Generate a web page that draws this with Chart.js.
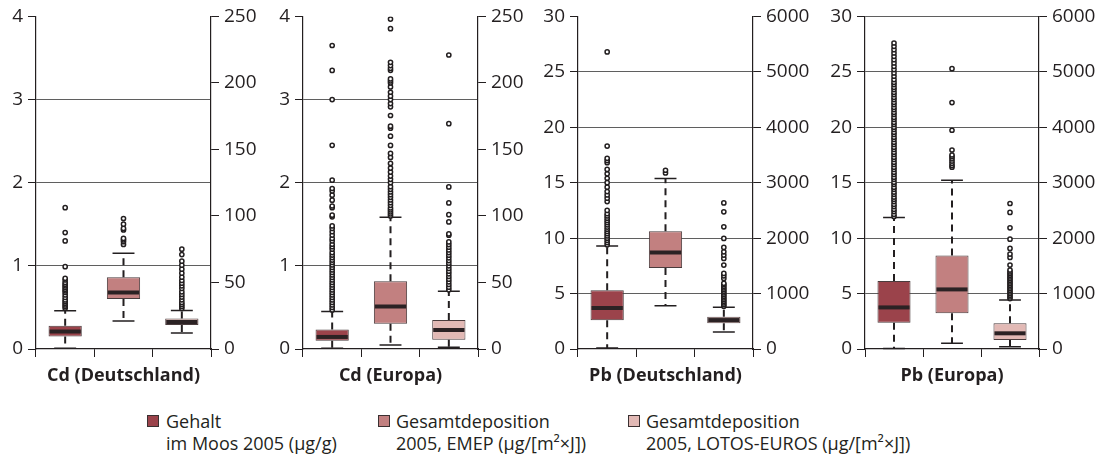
<!DOCTYPE html>
<html>
<head>
<meta charset="utf-8">
<script src="https://cdn.jsdelivr.net/npm/chart.js@4.4.0/dist/chart.umd.min.js"></script>
<style>
  body { margin: 0; background: #fff; }
  #wrap { position: relative; width: 1108px; height: 459px; font-family: "Open Sans", sans-serif; color: #231f20; }
  canvas { position: absolute; top: 0; }
  .lg { position: absolute; font-size: 18px; line-height: 22px; white-space: nowrap; }
  .sq { position: absolute; width: 12px; height: 12px; border: 1px solid #3a3031; box-sizing: border-box; }
</style>
</head>
<body>
<div id="wrap">
  <canvas id="p1" width="266" height="400" style="left:0px"></canvas>
  <canvas id="p2" width="267" height="400" style="left:266px"></canvas>
  <canvas id="p3" width="282" height="400" style="left:533px"></canvas>
  <canvas id="p4" width="293" height="400" style="left:815px"></canvas>

  <div class="sq" style="left:147px;top:415px;background:#9b434b"></div>
  <div class="lg" style="left:166px;top:410px">Gehalt<br>im Moos 2005 (µg/g)</div>
  <div class="sq" style="left:378px;top:415px;background:#c28080"></div>
  <div class="lg" style="left:396px;top:410px">Gesamtdeposition<br>2005, EMEP (µg/[m²×J])</div>
  <div class="sq" style="left:628px;top:415px;background:#e2b9b5"></div>
  <div class="lg" style="left:646px;top:410px">Gesamtdeposition<br>2005, LOTOS-EUROS (µg/[m²×J])</div>
</div>
<script>
const categories = ['Gehalt', 'EMEP', 'LOTOS-EUROS'];
const colors = ['#9b434b', '#c28080', '#e2b9b5'];

// box rows: [lower whisker, q1, median, q3, upper whisker]
// Gehalt on left axis, depositions on right axis
const cdDeBox = [
  [0.01, 0.15, 0.21, 0.28, 0.46],
  [21, 37.5, 42.5, 54, 72],
  [12, 18, 20.3, 23, 29]
];
const cdDeOutGehalt = [0.49, 0.51, 0.53, 0.55, 0.57, 0.59, 0.62, 0.65, 0.68, 0.70, 0.72, 0.74, 0.76, 0.78, 0.80, 0.83, 0.85, 0.99, 1.30, 1.40, 1.70];
const cdDeOutEmep = [78.6, 80.6, 82, 83.1, 89.5, 90.6, 93.8, 98.1];
const cdDeOutLotos = [30.5, 32, 33.5, 35, 37, 39, 41, 43, 45.5, 47.5, 49.5, 51.5, 54, 57, 60, 63, 66, 71, 75];

const cdEuBox = [
  [0.01, 0.10, 0.145, 0.235, 0.45],
  [3, 19, 32, 51, 99],
  [1.3, 7, 14.3, 21.8, 43.5]
];
const cdEuOutGehalt = [0.47, 0.5, 0.53, 0.56, 0.59, 0.62, 0.65, 0.68, 0.71, 0.74, 0.77, 0.8, 0.83, 0.86, 0.89, 0.92, 0.95, 0.98, 1.01, 1.04, 1.07, 1.1, 1.13, 1.16, 1.2, 1.23, 1.26, 1.3, 1.33, 1.37, 1.41, 1.45, 1.48, 1.59, 1.61, 1.7, 1.72, 1.79, 1.85, 1.9, 1.93, 2.03, 2.45, 3.0, 3.35, 3.65];
const cdEuOutEmep = [100, 101.5, 103, 104.5, 106, 108, 110, 112, 114, 116, 118, 120, 122, 125, 127.5, 130, 133, 136, 139.5, 144, 147, 153, 160, 166, 167.5, 175.5, 182, 184.5, 187.5, 190, 193, 197, 200, 201.5, 203, 209.5, 211, 213, 215.5, 240.8, 248];
const cdEuOutLotos = [44.5, 46.5, 48.5, 50.5, 52.5, 54.5, 56.5, 58.5, 60.5, 62.5, 64.5, 66.5, 68.5, 70.5, 72.5, 74.5, 76.5, 78.5, 80.5, 85.5, 86.5, 95.5, 101, 109.8, 121.8, 169.4, 221];

const pbDeBox = [
  [0.1, 2.6, 3.7, 5.3, 9.3],
  [780, 1459, 1742, 2126, 3075],
  [306, 463, 522, 582, 751]
];
const pbDeOutGehalt = [9.4, 9.6, 9.8, 10.0, 10.2, 10.4, 10.6, 10.8, 11.0, 11.2, 11.4, 11.6, 11.8, 12.0, 12.2, 12.5, 13.3, 13.6, 13.9, 14.2, 14.6, 15.0, 15.4, 15.8, 16.2, 16.8, 17.0, 17.2, 18.3, 26.8];
const pbDeOutEmep = [3177, 3225];
const pbDeOutLotos = [770, 800, 830, 860, 890, 920, 950, 980, 1010, 1040, 1070, 1100, 1130, 1160, 1185, 1274, 1320, 1364, 1514, 1634, 1694, 1753, 1832, 1994, 2204, 2474, 2636];

const pbEuBox = [
  [0.05, 2.37, 3.75, 6.13, 11.86],
  [103, 643, 1075, 1688, 3045],
  [41, 162, 283, 463, 883]
];
const pbEuOutGehalt = [11.95, 12.15, 12.4, 12.6, 12.85, 13.05, 13.3, 13.5, 13.7, 13.95, 14.15, 14.4, 14.6, 14.85, 15.05, 15.3, 15.5, 15.75, 15.95, 16.2, 16.4, 16.65, 16.85, 17.1, 17.3, 17.55, 17.75, 18.0, 18.2, 18.45, 18.65, 18.9, 19.1, 19.35, 19.55, 19.8, 20.0, 20.25, 20.45, 20.7, 20.9, 21.15, 21.35, 21.6, 21.8, 22.05, 22.25, 22.5, 22.7, 22.95, 23.15, 23.4, 23.6, 23.85, 24.05, 24.3, 24.6, 24.9, 25.2, 25.5, 25.8, 26.1, 26.4, 26.7, 27.0, 27.3, 27.6];
const pbEuOutEmep = [3280, 3310, 3350, 3390, 3430, 3470, 3500, 3590, 3946, 4445, 5057];
const pbEuOutLotos = [910, 940, 970, 1000, 1030, 1060, 1090, 1120, 1150, 1180, 1210, 1240, 1270, 1300, 1330, 1360, 1390, 1423, 1514, 1652, 1712, 1814, 1982, 2186, 2463, 2625];

const ink = '#231f20';

function boxParts(boxes) {
  return {
    id: 'boxParts',
    beforeDatasetsDraw(chart) {
      const ctx = chart.ctx;
      boxes.forEach((b, i) => {
        const el = chart.getDatasetMeta(i).data[i];
        const sc = chart.scales[i === 0 ? 'y' : 'y2'];
        const x = el.x, half = el.width * 0.33;
        ctx.save();
        ctx.strokeStyle = ink;
        ctx.lineWidth = 2;
        ctx.setLineDash([7, 5]);
        ctx.beginPath();
        ctx.moveTo(x, sc.getPixelForValue(b[3]));
        ctx.lineTo(x, sc.getPixelForValue(b[4]));
        ctx.moveTo(x, sc.getPixelForValue(b[1]));
        ctx.lineTo(x, sc.getPixelForValue(b[0]));
        ctx.stroke();
        ctx.setLineDash([]);
        ctx.lineWidth = 1.5;
        ctx.beginPath();
        [b[0], b[4]].forEach(v => {
          const y = sc.getPixelForValue(v);
          ctx.moveTo(x - half, y);
          ctx.lineTo(x + half, y);
        });
        ctx.stroke();
        ctx.restore();
      });
    },
    afterDatasetsDraw(chart) {
      const ctx = chart.ctx;
      boxes.forEach((b, i) => {
        const el = chart.getDatasetMeta(i).data[i];
        const sc = chart.scales[i === 0 ? 'y' : 'y2'];
        const y = sc.getPixelForValue(b[2]);
        ctx.save();
        ctx.strokeStyle = '#2b2224';
        ctx.lineWidth = 4;
        ctx.beginPath();
        ctx.moveTo(el.x - el.width / 2 + 1, y);
        ctx.lineTo(el.x + el.width / 2 - 1, y);
        ctx.stroke();
        ctx.restore();
      });
    }
  };
}

function drawPanel(id, title, boxes, outs, lMax, lStep, rMax, rStep, yW, y2W, topLine) {
  const datasets = [];
  boxes.forEach((b, i) => {
    datasets.push({
      type: 'bar',
      label: categories[i],
      data: categories.map((c, j) => j === i ? [b[1], b[3]] : null),
      yAxisID: i === 0 ? 'y' : 'y2',
      backgroundColor: colors[i],
      borderColor: '#4a3c3d',
      borderWidth: 1,
      borderSkipped: false,
      barPercentage: 0.57,
      categoryPercentage: 1,
      skipNull: true
    });
  });
  outs.forEach((o, i) => {
    datasets.push({
      type: 'line',
      label: categories[i] + ' Ausreißer',
      data: o.map(v => ({x: categories[i], y: v})),
      yAxisID: i === 0 ? 'y' : 'y2',
      showLine: false,
      pointRadius: 2.1,
      pointBorderWidth: 1.5,
      pointBackgroundColor: '#fff',
      pointBorderColor: ink
    });
  });
  const tickFont = {family: '"Open Sans", sans-serif', size: 19};
  new Chart(document.getElementById(id), {
    data: {labels: categories, datasets: datasets},
    options: {
      responsive: false,
      animation: false,
      layout: {padding: {top: 15, left: 0, right: 0, bottom: 0}},
      plugins: {legend: {display: false}, tooltip: {enabled: false}},
      scales: {
        x: {
          type: 'category',
          offset: true,
          grid: {offset: true, drawOnChartArea: false, drawTicks: true, tickLength: 8, color: ink},
          border: {color: ink, width: 1.2},
          ticks: {display: false},
          title: {display: true, text: title, color: ink, font: {family: '"Open Sans", sans-serif', size: 18, weight: 'bold'}, padding: {top: 0, bottom: 13}},
          afterFit: s => { s.height = 51; }
        },
        y: {
          position: 'left',
          min: 0, max: lMax,
          ticks: {stepSize: lStep, color: ink, font: tickFont, padding: 5, callback: v => String(v)},
          grid: {
            color: c => (c.tick.value === 0 || (c.tick.value === lMax && !topLine)) ? 'rgba(0,0,0,0)' : '#5f5f5f',
            tickColor: ink, tickLength: 8, lineWidth: 1
          },
          border: {color: ink, width: 1.2},
          afterFit: s => { s.width = yW; }
        },
        y2: {
          position: 'right',
          min: 0, max: rMax,
          ticks: {stepSize: rStep, color: ink, font: tickFont, padding: 5, callback: v => String(v)},
          grid: {drawOnChartArea: false, color: ink, tickLength: 8},
          border: {color: ink, width: 1.2},
          afterFit: s => { s.width = y2W; }
        }
      }
    },
    plugins: [boxParts(boxes)]
  });
}

drawPanel('p1', 'Cd (Deutschland)', cdDeBox, [cdDeOutGehalt, cdDeOutEmep, cdDeOutLotos], 4, 1, 250, 50, 36, 55, false);
drawPanel('p2', 'Cd (Europa)', cdEuBox, [cdEuOutGehalt, cdEuOutEmep, cdEuOutLotos], 4, 1, 250, 50, 37, 55, false);
drawPanel('p3', 'Pb (Deutschland)', pbDeBox, [pbDeOutGehalt, pbDeOutEmep, pbDeOutLotos], 30, 5, 6000, 1000, 45, 62, false);
drawPanel('p4', 'Pb (Europa)', pbEuBox, [pbEuOutGehalt, pbEuOutEmep, pbEuOutLotos], 30, 5, 6000, 1000, 50, 69, true);
</script>
</body>
</html>
